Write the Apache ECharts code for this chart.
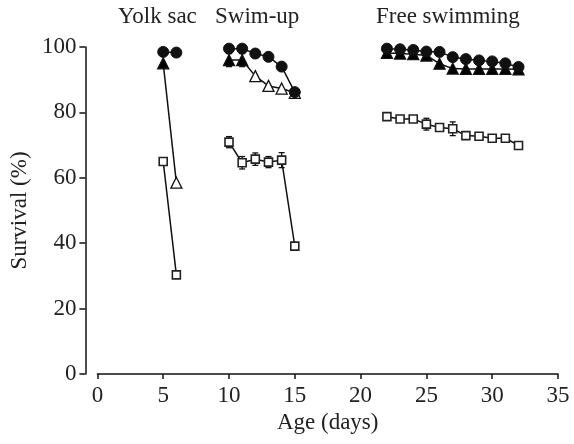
<!DOCTYPE html>
<html>
<head>
<meta charset="utf-8">
<script src="https://cdn.jsdelivr.net/npm/echarts@6/dist/echarts.min.js"></script>
<style>html,body{margin:0;padding:0;background:#fff}#c{width:574px;height:444px}</style>
</head>
<body>
<div id="c"></div>
<script>
// ---- data ----
const stageNames = ['Yolk sac', 'Swim-up', 'Free swimming'];
const yolkDays = [5, 6];
const swimDays = [10, 11, 12, 13, 14, 15];
const freeDays = [22, 23, 24, 25, 26, 27, 28, 29, 30, 31, 32];

const circleYolk = [98.5, 98.3];
const circleSwim = [99.5, 99.5, 98.0, 97.0, 94.0, 86.2];
const circleFree = [99.5, 99.3, 99.1, 98.6, 98.5, 96.9, 96.3, 95.9, 95.6, 95.0, 93.9];

const triYolk = [95.0, 58.5];
const triSwim = [96.0, 96.0, 91.1, 88.1, 87.3, 86.0];
const triFree = [98.2, 98.0, 97.8, 97.4, 94.9, 93.4, 93.3, 93.3, 93.3, 93.3, 93.2];

const sqYolk = [65.0, 30.3];
const sqSwim = [70.9, 64.6, 65.7, 64.8, 65.4, 39.1];
const sqFree = [78.7, 78.0, 78.0, 76.4, 75.4, 75.0, 72.9, 72.7, 72.1, 72.1, 69.9];

// error bars (±)
const errCircleFree = [0, 0, 0, 0, 0, 1.2, 0, 0, 0, 0, 0];
const errTriSwim = [2.0, 2.0, 0, 0, 0, 0];
const errSqSwim = [1.7, 1.9, 1.9, 1.7, 2.3, 0];
const errSqFree = [0, 0, 0, 1.8, 1.0, 2.1, 0, 0, 0, 0, 0];

const xTicks = [0, 5, 10, 15, 20, 25, 30, 35];
const yTicks = [0, 20, 40, 60, 80, 100];

// marker fill (style): open triangles
const triOpenYolk = [false, true];
const triOpenSwim = [false, false, true, true, true, true];
const triOpenFree = freeDays.map(() => false);

// ---- build ----
const FONT = 'Liberation Serif';
const TXT = '#222';
function pts(days, vals) { return days.map((d, i) => [d, vals[i]]); }
function triPts(days, vals, open) {
  return days.map((d, i) => ({ value: [d, vals[i]], itemStyle: { color: open[i] ? '#fff' : '#000' } }));
}
function errPts(days, vals, errs) {
  const out = [];
  days.forEach((d, i) => { if (errs[i] > 0) out.push([d, vals[i] - errs[i], vals[i] + errs[i]]); });
  return out;
}
const lineBase = { type: 'line', animation: false, lineStyle: { color: '#111', width: 1.5 }, emphasis: { disabled: true } };
function circleS(data) {
  return Object.assign({}, lineBase, { data, symbol: 'circle', symbolSize: 11, z: 5, itemStyle: { color: '#111', borderColor: '#111', borderWidth: 1 } });
}
function triS(data) {
  return Object.assign({}, lineBase, { data, symbol: 'triangle', symbolSize: 11, z: 4, itemStyle: { borderColor: '#111', borderWidth: 1.3 } });
}
function sqS(data) {
  return Object.assign({}, lineBase, { data, symbol: 'rect', symbolSize: 8, z: 4, itemStyle: { color: '#fff', borderColor: '#222', borderWidth: 1.6 } });
}
function errS(data) {
  return {
    type: 'custom', animation: false, z: 3, data,
    renderItem: function (params, api) {
      const x = api.value(0);
      const lo = api.coord([x, api.value(1)]);
      const hi = api.coord([x, api.value(2)]);
      const w = 3;
      const st = { stroke: '#111', lineWidth: 1.3 };
      return { type: 'group', children: [
        { type: 'line', shape: { x1: lo[0], y1: lo[1], x2: hi[0], y2: hi[1] }, style: st },
        { type: 'line', shape: { x1: lo[0] - w, y1: lo[1], x2: lo[0] + w, y2: lo[1] }, style: st },
        { type: 'line', shape: { x1: hi[0] - w, y1: hi[1], x2: hi[0] + w, y2: hi[1] }, style: st }
      ] };
    }
  };
}

const chart = echarts.init(document.getElementById('c'), null, { renderer: 'canvas' });
const option = {
  backgroundColor: '#fff',
  animation: false,
  grid: { left: 93, right: 16, top: 47, bottom: 70, containLabel: false },
  xAxis: {
    type: 'value', min: 0, max: 35, interval: 5,
    name: 'Age (days)', nameLocation: 'middle', nameGap: 33,
    nameTextStyle: { fontFamily: FONT, fontSize: 23, color: TXT },
    axisLine: { onZero: false, lineStyle: { color: '#111', width: 1.5 } },
    axisTick: { show: true, length: 5, lineStyle: { color: '#111', width: 1.5 } },
    axisLabel: { fontFamily: FONT, fontSize: 23, color: TXT, margin: 10,
      formatter: v => xTicks.includes(v) ? String(v) : '' },
    splitLine: { show: false }
  },
  yAxis: {
    type: 'value', min: 0, max: 100, interval: 20, offset: 12,
    name: 'Survival (%)', nameLocation: 'middle', nameGap: 40,
    nameTextStyle: { fontFamily: FONT, fontSize: 23, color: TXT },
    axisLine: { show: true, onZero: false, lineStyle: { color: '#111', width: 1.5 } },
    axisTick: { show: true, length: 6, lineStyle: { color: '#111', width: 1.5 } },
    axisLabel: { fontFamily: FONT, fontSize: 23, color: TXT, margin: 9,
      formatter: v => yTicks.includes(v) ? String(v) : '' },
    splitLine: { show: false }
  },
  graphic: [
    { type: 'text', left: 118, top: 5, style: { text: stageNames[0], font: '23px "Liberation Serif"', fill: TXT } },
    { type: 'text', left: 215, top: 5, style: { text: stageNames[1], font: '23px "Liberation Serif"', fill: TXT } },
    { type: 'text', left: 376, top: 5, style: { text: stageNames[2], font: '23px "Liberation Serif"', fill: TXT } }
  ],
  series: [
    errS(errPts(swimDays, triSwim, errTriSwim)),
    errS(errPts(swimDays, sqSwim, errSqSwim)),
    errS(errPts(freeDays, sqFree, errSqFree)),
    errS(errPts(freeDays, circleFree, errCircleFree)),
    sqS(pts(yolkDays, sqYolk)),
    sqS(pts(swimDays, sqSwim)),
    sqS(pts(freeDays, sqFree)),
    triS(triPts(yolkDays, triYolk, triOpenYolk)),
    triS(triPts(swimDays, triSwim, triOpenSwim)),
    triS(triPts(freeDays, triFree, triOpenFree)),
    circleS(pts(yolkDays, circleYolk)),
    circleS(pts(swimDays, circleSwim)),
    circleS(pts(freeDays, circleFree))
  ]
};
chart.setOption(option);
</script>
</body>
</html>
